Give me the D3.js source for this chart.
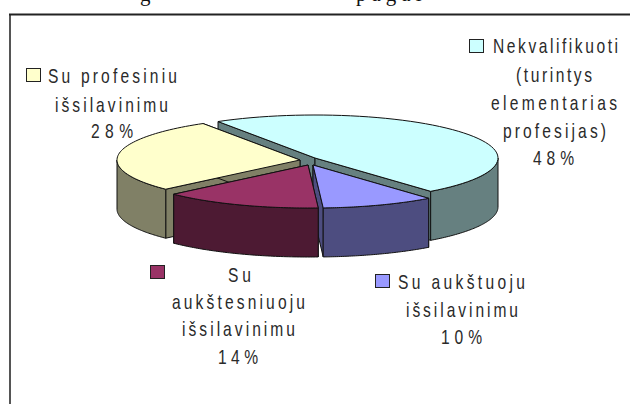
<!DOCTYPE html>
<html><head><meta charset="utf-8">
<style>html,body{margin:0;padding:0;background:#fff;overflow:hidden}svg{display:block}</style>
<script src="https://cdn.jsdelivr.net/npm/d3@7/dist/d3.min.js"></script>
</head><body><svg id="c" width="630" height="404"></svg>
<script>
const categories = ["Nekvalifikuoti", "Su aukštuoju", "Su aukštesniuoju", "Su profesiniu"];
const values = [48, 10, 14, 28];
const topColors = ["#CCFFFF", "#9999FF", "#993366", "#FFFFCC"];
const sideColors = ["#668080", "#4D4D80", "#4D1A33", "#808066"];
const labelLines = [
  ["Nekvalifikuoti", "(turintys", "elementarias", "profesijas)", "48%"],
  ["Su aukštuoju", "išsilavinimu", "10%"],
  ["Su", "aukštesniuoju", "išsilavinimu", "14%"],
  ["Su profesiniu", "išsilavinimu", "28%"]
];

// layout
const rx = 183, ry = 43, depth = 49;
const centers = [[315,158],[313,165],[308,165],[300,160]];
const keyBoxes = [[469,39],[375,274],[150,265],[26,68]];
const lineLayout = [
  [[493,618,53],[516,592,82],[491,617,110],[503,606,138],[533,574,165]],
  [[398,525,289],[406,518,317],[441,482,344]],
  [[228,251,282],[172,305,309],[182,295,336],[218,258,364]],
  [[48,177,83],[55,168,112],[91,133,138]]
];
const svg = d3.select("#c");
const font = "'Liberation Sans',Arial,sans-serif";
const sx = 0.78;

// page title, cut by the top edge of the picture
const titleBits = [["g",140,0],["pagal",356,5]];
svg.selectAll("text.title").data(titleBits).join("text").attr("class","title")
  .attr("x",d=>d[1]).attr("y",1).attr("font-family","'Liberation Serif',serif")
  .attr("font-size",21).attr("letter-spacing",d=>d[2]).attr("fill","#111").text(d=>d[0]);

// frame: only top and left edges are in view
svg.append("path").attr("d",d3.line()([[10,404],[10,14]])).attr("fill","none").attr("stroke","#555").attr("stroke-width",2);
svg.append("path").attr("d",d3.line()([[9,14.5],[630,14.5]])).attr("fill","none").attr("stroke","#222").attr("stroke-width",2);

const start = -32 * Math.PI/180;
const arcs = d3.pie().sort(null).startAngle(start).endAngle(start + 2*Math.PI)(values);
const ptOn = (i,a,dy=0)=>[centers[i][0]+rx*Math.sin(a), centers[i][1]-ry*Math.cos(a)+dy];
const line = d3.line();
const samples = (a0,a1)=>d3.range(0,61).map(k=>a0+(a1-a0)*k/60);

const order = [0,3,1,2];
const g = svg.append("g").attr("stroke","#111").attr("stroke-width",1).attr("stroke-linejoin","round");
order.forEach(i=>{
  const {startAngle:a0,endAngle:a1} = arcs[i];
  const c = centers[i];
  const cd = [c[0],c[1]+depth];
  const side = g.append("g").attr("fill",sideColors[i]);
  // cut walls
  [a0,a1].forEach(a=>{
    side.append("path").attr("d",line([c,ptOn(i,a),ptOn(i,a,depth),cd])+"Z");
  });
  // outer wall, only the part facing the viewer
  const w0 = Math.max(a0,Math.PI/2), w1 = Math.min(a1,Math.PI*1.5);
  if (w1>w0){
    const t = samples(w0,w1);
    side.append("path").attr("d",line([...t.map(a=>ptOn(i,a)),...t.slice().reverse().map(a=>ptOn(i,a,depth))])+"Z");
  }
  // top face
  g.append("path").attr("fill",topColors[i])
    .attr("d",line([c,...samples(a0,a1).map(a=>ptOn(i,a))])+"Z");
});

// labels
labelLines.forEach((lines,i)=>{
  svg.append("rect").attr("x",keyBoxes[i][0]+.5).attr("y",keyBoxes[i][1]+.5)
    .attr("width",14).attr("height",13).attr("fill",topColors[i]).attr("stroke","#222");
  lines.forEach((s,j)=>{
    const [x0,x1,y] = lineLayout[i][j];
    svg.append("text").attr("transform",`translate(${x0},${y}) scale(${sx},1)`)
      .attr("font-family",font).attr("font-size",20).attr("fill","#2a2a2a")
      .attr("textLength",(x1-x0)/sx).attr("lengthAdjust","spacing").text(s);
  });
});
</script></body></html>
